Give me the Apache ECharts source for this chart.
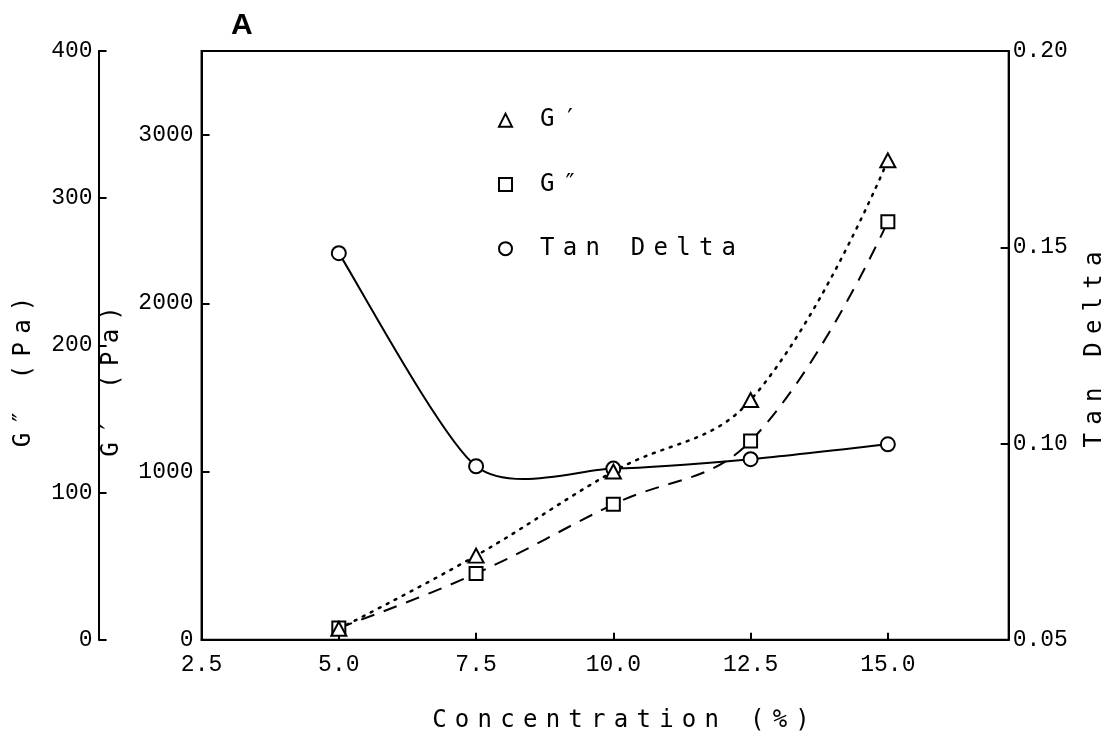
<!DOCTYPE html>
<html>
<head>
<meta charset="utf-8">
<script src="https://cdn.jsdelivr.net/npm/echarts@6/dist/echarts.min.js"></script>
<style>
  html, body { margin: 0; padding: 0; background: #fff; }
  #chart { width: 1119px; height: 742px; }
</style>
</head>
<body>
<div id="chart"></div>
<script>
// Plotter-style lettering: monospaced titles get a fixed character cell.
const TITLE_CELL = 22.7;
(function () {
  const proto = CanvasRenderingContext2D.prototype;
  const fontDesc = Object.getOwnPropertyDescriptor(proto, 'font');
  if (!fontDesc || !('letterSpacing' in proto)) return;
  Object.defineProperty(proto, 'font', {
    configurable: true,
    get() { return fontDesc.get.call(this); },
    set(v) {
      fontDesc.set.call(this, v);
      const m = /(\d+(?:\.\d+)?)px/.exec(v);
      if (m && /DejaVu Sans Mono/.test(v)) {
        this.letterSpacing = Math.max(0, TITLE_CELL - 0.602 * parseFloat(m[1])).toFixed(2) + 'px';
      } else {
        this.letterSpacing = '0px';
      }
    }
  });
})();

// Concentration (%) of the samples
const concentration = [5.0, 7.5, 10.0, 12.5, 15.0];
// Storage modulus G′ (Pa)
const gPrime = [65, 500, 1000, 1425, 2850];
// Loss modulus G″ (Pa)
const gDoublePrime = [8, 45, 92, 135, 284];
// Loss tangent
const tanDelta = [0.1485, 0.0942, 0.0936, 0.0960, 0.0998];

// Axis ranges: [min, max, interval]
const xRange = [2.5, 17.2, 2.5];
const gPrimeRange = [0, 3500, 1000];
const gDoublePrimeRange = [0, 400, 100];
const tanDeltaRange = [0.05, 0.20, 0.05];

const TICK_FONT = 'Liberation Mono';
const TITLE_FONT = 'DejaVu Sans Mono';

const pairs = (ys) => concentration.map((c, i) => [c, ys[i]]);
const onStep = (v, r) => Math.abs((v - r[0]) / r[2] - Math.round((v - r[0]) / r[2])) < 1e-6;

// Cardinal spline through the points (pixel space), as a bezier path string.
function splinePath(points, k) {
  let d = 'M' + points[0][0] + ',' + points[0][1];
  for (let i = 0; i < points.length - 1; i++) {
    const p0 = points[Math.max(i - 1, 0)];
    const p1 = points[i];
    const p2 = points[i + 1];
    const p3 = points[Math.min(i + 2, points.length - 1)];
    const c1 = [p1[0] + (p2[0] - p0[0]) * k, p1[1] + (p2[1] - p0[1]) * k];
    const c2 = [p2[0] - (p3[0] - p1[0]) * k, p2[1] - (p3[1] - p1[1]) * k];
    d += ' C' + c1[0] + ',' + c1[1] + ' ' + c2[0] + ',' + c2[1] + ' ' + p2[0] + ',' + p2[1];
  }
  return d;
}

const axisLine = { show: true, lineStyle: { color: '#000', width: 2 } };
const tickLabel = { color: '#000', fontFamily: TICK_FONT, fontSize: 23 };
const titleText = { color: '#000', fontFamily: TITLE_FONT, fontSize: 24 };
const markerStyle = { color: '#fff', borderColor: '#000', borderWidth: 2, opacity: 1 };

const chart = echarts.init(document.getElementById('chart'), null, { renderer: 'canvas' });

chart.setOption({
  animation: false,
  backgroundColor: '#fff',
  title: {
    text: 'A',
    left: 226,
    top: 6,
    textStyle: { fontFamily: 'Liberation Sans', fontWeight: 'bold', fontSize: 30, color: '#000' }
  },
  grid: {
    left: 198, right: 101, top: 51, bottom: 92,
    show: true, borderColor: '#000', borderWidth: 2, backgroundColor: 'transparent'
  },
  legend: {
    orient: 'vertical',
    left: 498,
    top: 104,
    padding: 0,
    data: [
      { name: 'G′', icon: 'triangle' },
      { name: 'G″', icon: 'rect' },
      { name: 'Tan Delta', icon: 'circle' }
    ],
    itemWidth: 13,
    itemHeight: 13,
    itemGap: 32,
    selectedMode: false,
    itemStyle: { color: '#fff', borderColor: '#000', borderWidth: 2 },
    lineStyle: { opacity: 0, width: 0 },
    textStyle: Object.assign({}, titleText, { lineHeight: 24, padding: [0, 0, 0, 23] })
  },
  xAxis: {
    type: 'value',
    min: xRange[0], max: xRange[1], interval: xRange[2],
    name: 'Concentration (%)',
    nameLocation: 'middle',
    nameGap: 65,
    nameTextStyle: Object.assign({}, titleText, { padding: [0, 0, 0, 40] }),
    axisLine: axisLine,
    axisTick: { show: true, inside: true, length: 7, lineStyle: { color: '#000', width: 2 } },
    axisLabel: Object.assign({}, tickLabel, {
      margin: 14,
      showMaxLabel: false,
      formatter: (v) => (onStep(v, xRange) ? v.toFixed(1) : '')
    }),
    splitLine: { show: false }
  },
  yAxis: [
    {
      type: 'value',
      position: 'left',
      min: gPrimeRange[0], max: gPrimeRange[1], interval: gPrimeRange[2],
      name: 'G′ (Pa)',
      nameLocation: 'middle',
      nameRotate: 90,
      nameGap: 63,
      nameTextStyle: Object.assign({}, titleText, { padding: [0, 64, 0, 0] }),
      axisLine: axisLine,
      axisTick: { show: true, inside: true, length: 8, lineStyle: { color: '#000', width: 2 } },
      axisLabel: Object.assign({}, tickLabel, {
        margin: 8,
        formatter: (v) => (onStep(v, gPrimeRange) && v < gPrimeRange[1] ? String(v) : '')
      }),
      splitLine: { show: false }
    },
    {
      type: 'value',
      position: 'left',
      offset: 103,
      min: gDoublePrimeRange[0], max: gDoublePrimeRange[1], interval: gDoublePrimeRange[2],
      name: 'G″ (Pa)',
      nameLocation: 'middle',
      nameRotate: 90,
      nameGap: 58,
      nameTextStyle: Object.assign({}, titleText, { padding: [0, 45, 0, 0] }),
      axisLine: axisLine,
      axisTick: { show: true, inside: true, length: 8, lineStyle: { color: '#000', width: 2 } },
      axisLabel: Object.assign({}, tickLabel, { margin: 6 }),
      splitLine: { show: false }
    },
    {
      type: 'value',
      position: 'right',
      min: tanDeltaRange[0], max: tanDeltaRange[1], interval: tanDeltaRange[2],
      name: 'Tan Delta',
      nameLocation: 'middle',
      nameRotate: 90,
      nameGap: 69,
      nameTextStyle: titleText,
      axisLine: axisLine,
      axisTick: { show: true, inside: true, length: 8, lineStyle: { color: '#000', width: 2 } },
      axisLabel: Object.assign({}, tickLabel, {
        margin: 4,
        formatter: (v) => v.toFixed(2)
      }),
      splitLine: { show: false }
    }
  ],
  series: [
    {
      // Solid spline for the loss tangent, drawn through the axis scales
      type: 'custom',
      yAxisIndex: 2,
      data: pairs(tanDelta),
      silent: true,
      z: 1,
      renderItem: function (params, api) {
        if (params.dataIndex !== 0) return null;
        const pts = concentration.map((c, i) => api.coord([c, tanDelta[i]]));
        return {
          type: 'path',
          shape: { pathData: splinePath(pts, 0.125) },
          style: { fill: null, stroke: '#000', lineWidth: 2 }
        };
      }
    },
    {
      name: 'Tan Delta',
      type: 'line',
      yAxisIndex: 2,
      data: pairs(tanDelta),
      symbol: 'circle',
      symbolSize: 14,
      lineStyle: { opacity: 0, width: 0 },
      itemStyle: markerStyle,
      emphasis: { disabled: true },
      z: 2
    },
    {
      name: 'G″',
      type: 'line',
      yAxisIndex: 1,
      data: pairs(gDoublePrime),
      smooth: 0.4,
      symbol: 'rect',
      symbolSize: 13,
      lineStyle: { color: '#000', width: 2, type: [14, 10] },
      itemStyle: markerStyle,
      emphasis: { disabled: true },
      z: 3
    },
    {
      name: 'G′',
      type: 'line',
      yAxisIndex: 0,
      data: pairs(gPrime),
      smooth: 0.4,
      symbol: 'triangle',
      symbolSize: [15, 14],
      lineStyle: { color: '#000', width: 2.5, type: [2, 7], cap: 'round' },
      itemStyle: markerStyle,
      emphasis: { disabled: true },
      z: 4
    }
  ]
});
</script>
</body>
</html>
